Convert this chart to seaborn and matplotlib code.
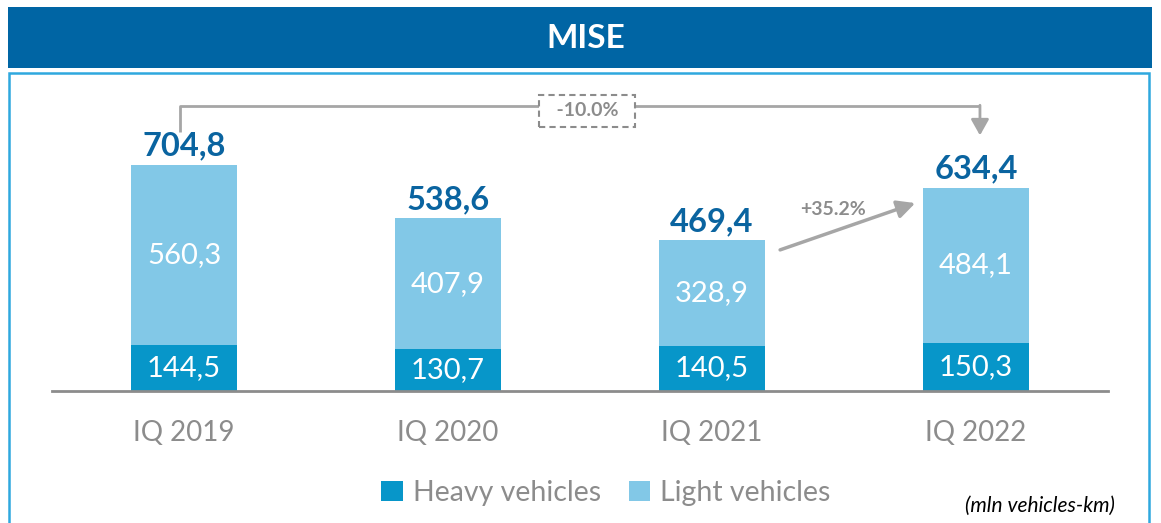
import matplotlib
matplotlib.use("Agg")
import matplotlib.pyplot as plt
from matplotlib.patches import Rectangle, Patch
import seaborn as sns
import pandas as pd

quarters = ["IQ 2019", "IQ 2020", "IQ 2021", "IQ 2022"]
heavy = [144.5, 130.7, 140.5, 150.3]
light = [560.3, 407.9, 328.9, 484.1]
totals = [704.8, 538.6, 469.4, 634.4]
heavy_labels = ["144,5", "130,7", "140,5", "150,3"]
light_labels = ["560,3", "407,9", "328,9", "484,1"]
total_labels = ["704,8", "538,6", "469,4", "634,4"]
series_names = ["Heavy vehicles", "Light vehicles"]
title = "MISE"
unit_note = "(mln vehicles-km)"
overall_change = "-10.0%"
yoy_change = "+35.2%"

HEAVY_C = "#0796C9"
LIGHT_C = "#82C8E7"
DARK_BLUE = "#0A64A0"
GRAY = "#8C8C8C"
ARROW_GRAY = "#A6A6A6"

sns.set_theme(style="white")
plt.rcParams["font.family"] = ["Lato", "DejaVu Sans"]

W, H = 1161, 523
fig = plt.figure(figsize=(W / 100, H / 100), dpi=100)

# header band and panel border (figure coords)
fig.patches.append(Rectangle((8 / W, 1 - 68 / H), 1144 / W, 61 / H,
                             transform=fig.transFigure, facecolor="#0065A4",
                             edgecolor="none", zorder=-5))
fig.patches.append(Rectangle((9 / W, -0.05), 1140 / W, 1 - 73 / H + 0.05,
                             transform=fig.transFigure, facecolor="white",
                             edgecolor="#2FA8DE", linewidth=1.8, zorder=-5))
fig.text(586 / W, 1 - 39 / H, title, color="white", fontsize=24,
         fontweight="bold", ha="center", va="center")

px_per_unit = 0.3207
ax_left, ax_right = 52, 1108
ax_bottom, ax_top = 391, 80
ax = fig.add_axes([ax_left / W, 1 - ax_bottom / H, (ax_right - ax_left) / W,
                   (ax_bottom - ax_top) / H], zorder=2)
ax.patch.set_alpha(0)

df = pd.DataFrame({"quarter": quarters, "heavy": heavy, "light": light,
                   "total": totals})
sns.barplot(data=df, x="quarter", y="total", color=LIGHT_C, width=0.4,
            saturation=1, ax=ax, edgecolor="none", linewidth=0)
sns.barplot(data=df, x="quarter", y="heavy", color=HEAVY_C, width=0.4,
            saturation=1, ax=ax, edgecolor="none", linewidth=0)

ax.set_xlim(-0.5, 3.5)
ax.set_ylim(0, (ax_bottom - ax_top) / px_per_unit)
ax.set_xlabel("")
ax.set_ylabel("")
ax.set_yticks([])
for s in ["top", "right", "left"]:
    ax.spines[s].set_visible(False)
ax.spines["bottom"].set_color(GRAY)
ax.spines["bottom"].set_linewidth(2)
ax.spines["bottom"].set_zorder(5)
ax.tick_params(axis="x", length=0, pad=21, labelsize=20, labelcolor=GRAY)

for i in range(len(quarters)):
    ax.text(i, heavy[i] / 2, heavy_labels[i], ha="center", va="center",
            color="white", fontsize=21)
    ax.text(i, heavy[i] + light[i] / 2, light_labels[i], ha="center",
            va="center", color="white", fontsize=21)
    ax.annotate(total_labels[i], (i, totals[i]), xytext=(0, 3),
                textcoords="offset points", ha="center", va="bottom",
                color=DARK_BLUE, fontsize=23.5, fontweight="bold")

# overall bracket 2019 -> 2022
y_br = 888
ax.plot([-0.015, -0.015, 3.015], [807, y_br, y_br], color=ARROW_GRAY,
        lw=2, clip_on=False, solid_capstyle="butt")
ax.annotate("", xy=(3.015, 797), xytext=(3.015, y_br + 3),
            arrowprops=dict(arrowstyle="-|>,head_length=0.8,head_width=0.45",
                            color=ARROW_GRAY, lw=2, shrinkA=0, shrinkB=0),
            annotation_clip=False)
ax.text(1.527, 874, "  " + overall_change + "  ", ha="center", va="center",
        color=GRAY, fontsize=14, fontweight="bold",
        bbox=dict(boxstyle="square,pad=0.38", facecolor="white",
                  edgecolor=GRAY, linestyle=(0, (3, 2)), linewidth=1.5))

# 2021 -> 2022 growth arrow
ax.annotate("", xy=(2.77, 586), xytext=(2.258, 440),
            arrowprops=dict(arrowstyle="-|>,head_length=0.9,head_width=0.45",
                            color=ARROW_GRAY, lw=2.5, shrinkA=0, shrinkB=0))
ax.text(2.458, 566, yoy_change, ha="center", va="center", color=GRAY,
        fontsize=14, fontweight="bold")

handles = [Patch(facecolor=HEAVY_C, edgecolor="none"),
           Patch(facecolor=LIGHT_C, edgecolor="none")]
fig.legend(handles, series_names, loc="center", ncol=2,
           bbox_to_anchor=(606 / W, 1 - 493 / H), frameon=False,
           handlelength=0.75, handleheight=0.75, handletextpad=0.35,
           columnspacing=1.0, prop={"size": 20.5},
           labelcolor=GRAY)
fig.text(1115 / W, 1 - 506 / H, unit_note, ha="right", va="center",
         fontsize=15, style="italic", color="black")

fig.savefig("out.png", dpi=100)
